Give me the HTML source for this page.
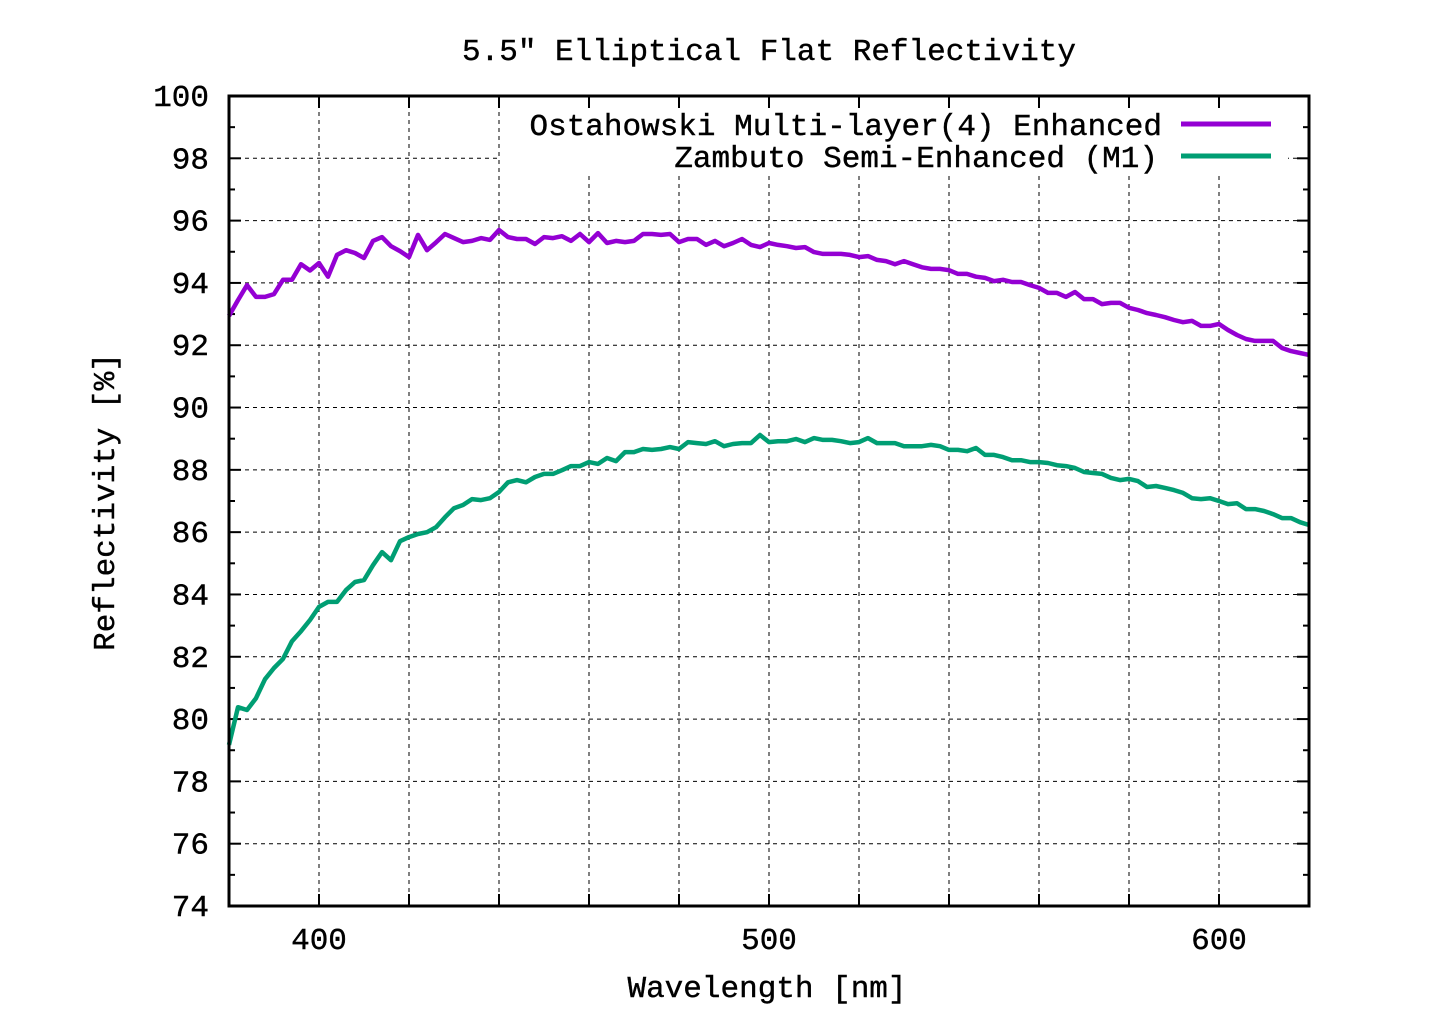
<!DOCTYPE html>
<html><head><meta charset="utf-8"><style>
body{margin:0;background:#fff}
svg text{font-family:"Liberation Mono","DejaVu Sans Mono",monospace;font-size:31px;fill:#000;stroke:#000;stroke-width:0.4}
</style></head><body>
<svg id="chart" width="1440" height="1008" viewBox="0 0 1440 1008" xmlns="http://www.w3.org/2000/svg">
<rect width="1440" height="1008" fill="#fff"/>
<text x="769" y="60" text-anchor="middle">5.5" Elliptical Flat Reflectivity</text>
<g id="grid"></g>
<g id="ticks"></g>
<g id="series"></g>
<rect x="500" y="108" width="788" height="64" fill="#fff"/>
<text x="1162" y="135" text-anchor="end">Ostahowski Multi-layer(4) Enhanced</text>
<line x1="1181" y1="124" x2="1271" y2="124" stroke="#9400d3" stroke-width="5"/>
<text x="1158" y="167" text-anchor="end">Zambuto Semi-Enhanced (M1)</text>
<line x1="1181" y1="156" x2="1271" y2="156" stroke="#009e73" stroke-width="5"/>
<rect x="229" y="96" width="1080" height="810" fill="none" stroke="#000" stroke-width="3"/>
<text x="767" y="997" text-anchor="middle">Wavelength [nm]</text>
<text x="0" y="0" text-anchor="middle" transform="translate(114,502) rotate(-90)">Reflectivity [%]</text>
</svg>
<script>
const wavelengths=[380,382,384,386,388,390,392,394,396,398,400,402,404,406,408,410,412,414,416,418,420,422,424,426,428,430,432,434,436,438,440,442,444,446,448,450,452,454,456,458,460,462,464,466,468,470,472,474,476,478,480,482,484,486,488,490,492,494,496,498,500,502,504,506,508,510,512,514,516,518,520,522,524,526,528,530,532,534,536,538,540,542,544,546,548,550,552,554,556,558,560,562,564,566,568,570,572,574,576,578,580,582,584,586,588,590,592,594,596,598,600,602,604,606,608,610,612,614,616,618,620];
const ostahowski=[92.94,93.45,93.93,93.55,93.55,93.64,94.1,94.1,94.6,94.4,94.64,94.2,94.9,95.05,94.96,94.8,95.35,95.47,95.18,95.02,94.83,95.54,95.05,95.3,95.57,95.44,95.31,95.35,95.44,95.38,95.7,95.47,95.41,95.41,95.25,95.47,95.44,95.5,95.35,95.57,95.31,95.6,95.28,95.35,95.31,95.35,95.57,95.57,95.54,95.57,95.31,95.41,95.41,95.22,95.35,95.18,95.28,95.41,95.22,95.15,95.28,95.22,95.18,95.12,95.15,94.99,94.93,94.93,94.93,94.9,94.83,94.86,94.74,94.7,94.6,94.7,94.6,94.5,94.45,94.45,94.41,94.29,94.29,94.2,94.16,94.06,94.1,94.03,94.03,93.93,93.84,93.68,93.68,93.55,93.71,93.48,93.48,93.32,93.36,93.36,93.2,93.13,93.03,92.97,92.9,92.81,92.74,92.78,92.62,92.62,92.68,92.49,92.33,92.2,92.14,92.14,92.14,91.91,91.81,91.75,91.69];
const zambuto=[79.17,80.38,80.29,80.67,81.28,81.64,81.93,82.5,82.82,83.18,83.6,83.76,83.76,84.14,84.4,84.46,84.94,85.36,85.1,85.71,85.84,85.94,86.0,86.16,86.48,86.77,86.87,87.06,87.03,87.09,87.29,87.6,87.67,87.6,87.77,87.87,87.87,87.99,88.12,88.12,88.25,88.19,88.38,88.28,88.57,88.57,88.67,88.64,88.67,88.73,88.67,88.89,88.86,88.83,88.92,88.76,88.83,88.86,88.86,89.12,88.89,88.92,88.92,88.99,88.89,89.02,88.96,88.96,88.92,88.86,88.89,89.02,88.86,88.86,88.86,88.76,88.76,88.76,88.8,88.76,88.64,88.64,88.6,88.7,88.48,88.48,88.41,88.31,88.31,88.25,88.25,88.22,88.15,88.12,88.06,87.93,87.9,87.87,87.74,87.67,87.71,87.64,87.45,87.48,87.42,87.35,87.26,87.09,87.06,87.09,87.0,86.9,86.93,86.74,86.74,86.68,86.58,86.45,86.45,86.32,86.23];
const xTickLabels=[400,500,600];
const xGrid=[400,420,440,460,480,500,520,540,560,580,600];
const yTickLabels=[74,76,78,80,82,84,86,88,90,92,94,96,98,100];

const L=229,R=1309,T=96,B=906,X0=380,X1=620,Y0=74,Y1=100;
const xs=v=>L+(v-X0)/(X1-X0)*(R-L);
const ys=v=>B-(v-Y0)/(Y1-Y0)*(B-T);
const NS='http://www.w3.org/2000/svg';
function mk(tag,attrs,parent){const e=document.createElementNS(NS,tag);for(const k in attrs)e.setAttribute(k,attrs[k]);parent.appendChild(e);return e;}
const grid=document.getElementById('grid'),ticks=document.getElementById('ticks'),series=document.getElementById('series');
xGrid.forEach(v=>{
  const g=mk('line',{x1:xs(v),x2:xs(v),y1:T,y2:B,stroke:'#000','stroke-width':1,'stroke-dasharray':'4,4'},grid);
  
  
  const t1=mk('line',{x1:xs(v),x2:xs(v),y1:B,y2:B-12,stroke:'#000','stroke-width':2},ticks);
  
  
  const t2=mk('line',{x1:xs(v),x2:xs(v),y1:T,y2:T+12,stroke:'#000','stroke-width':2},ticks);
  
  
});
xTickLabels.forEach(v=>{
  const t=mk('text',{x:xs(v),y:949,'text-anchor':'middle'},ticks);t.textContent=v;
  
  
});
yTickLabels.forEach(v=>{
  if(v>Y0&&v<Y1){
    const g=mk('line',{x1:L,x2:R,y1:ys(v),y2:ys(v),stroke:'#000','stroke-width':1,'stroke-dasharray':'4,4'},grid);
    
    
  }
  const a=mk('line',{x1:L,x2:L+12,y1:ys(v),y2:ys(v),stroke:'#000','stroke-width':2},ticks);
  
  
  const b=mk('line',{x1:R,x2:R-12,y1:ys(v),y2:ys(v),stroke:'#000','stroke-width':2},ticks);
  
  
  if(v<Y1){
    const m=mk('line',{x1:L,x2:L+6,y1:ys(v+1),y2:ys(v+1),stroke:'#000','stroke-width':2},ticks);
    
    
    const m2=mk('line',{x1:R,x2:R-6,y1:ys(v+1),y2:ys(v+1),stroke:'#000','stroke-width':2},ticks);
    
    
  }
  const t=mk('text',{x:209,y:ys(v)+10,'text-anchor':'end'},ticks);t.textContent=v;
  
  
});
function line(vals,color,name){
  const d=vals.map((v,i)=>(i?'L':'M')+xs(wavelengths[i]).toFixed(1)+','+ys(v).toFixed(1)).join('');
  const p=mk('path',{d:d,fill:'none',stroke:color,'stroke-width':4.5,'stroke-linejoin':'round'},series);
  
  
}
line(ostahowski,'#9400d3','ostahowski-line');
line(zambuto,'#009e73','zambuto-line');
</script>
</body></html>
